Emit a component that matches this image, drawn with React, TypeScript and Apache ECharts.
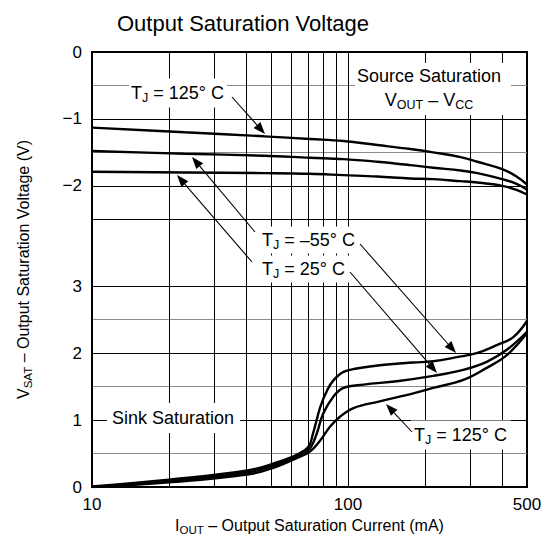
import React, { useEffect, useRef } from 'react';
import * as echarts from 'echarts';

const FONT = '"Liberation Sans", Arial, Helvetica, sans-serif';

// ---- axes ----
const xTickValues = [10, 20, 30, 40, 50, 60, 70, 80, 90, 100, 200, 300, 400, 500];
const xLabelValues = [10, 100, 500];
// Lower half of the y axis: sink voltage 0..3 V. Upper half: source voltage (VOUT - VCC), 0 at top.
const SOURCE_OFFSET = 6.5;
const yTickValues = [0, 0.5, 1, 1.5, 2, 2.5, 3, 4, 4.5, 5, 5.5, 6, 6.5];
const yLabelValues = [0, 1, 2, 3, 4.5, 5.5, 6.5];

// ---- source saturation (V, negative) ----
const sourceCurrent = [10, 23, 47, 71, 96, 130, 175, 215, 275, 320, 400, 455, 500];
const source125 = [-1.13, -1.2, -1.26, -1.3, -1.33, -1.39, -1.45, -1.5, -1.57, -1.64, -1.75, -1.86, -1.98];
const sourceM55 = [-1.48, -1.52, -1.55, -1.58, -1.6, -1.64, -1.69, -1.73, -1.77, -1.81, -1.9, -1.97, -2.06];
const source25 = [-1.79, -1.8, -1.81, -1.82, -1.84, -1.86, -1.89, -1.9, -1.93, -1.95, -2.0, -2.06, -2.13];

// ---- sink saturation (V) ----
const sinkCurrentM55 = [10, 20, 41, 53, 63, 70, 73, 78, 83, 88, 96, 108, 133, 180, 215, 266, 318, 381, 442, 500];
const sinkM55 = [0.01, 0.11, 0.25, 0.37, 0.48, 0.6, 0.8, 1.2, 1.45, 1.6, 1.72, 1.77, 1.82, 1.86, 1.88, 1.94, 2.0, 2.12, 2.24, 2.48];
const sinkCurrent25 = [10, 20, 41, 53, 63, 71, 75.5, 80, 87.6, 96, 115, 155, 215, 282, 348, 417, 500];
const sink25 = [0.0, 0.09, 0.22, 0.34, 0.45, 0.58, 0.8, 1.1, 1.35, 1.48, 1.53, 1.58, 1.66, 1.75, 1.87, 2.05, 2.32];
const sinkCurrent125 = [10, 20, 41, 53, 63, 71, 78, 85, 93, 105, 133, 180, 215, 282, 348, 417, 500];
const sink125 = [0.0, 0.07, 0.19, 0.31, 0.43, 0.53, 0.7, 0.9, 1.05, 1.18, 1.28, 1.4, 1.48, 1.6, 1.78, 1.97, 2.3];

const pairs = (xs: number[], ys: number[], offset = 0) => xs.map((x, i) => [x, ys[i] + offset]);

const richT = {
  n: { fontSize: 18, fontFamily: FONT, fill: '#000' },
  s: { fontSize: 12.5, fontFamily: FONT, fill: '#000', padding: [10, 0, 0, 0] },
};

function arrowEls(x1: number, y1: number, x2: number, y2: number) {
  const dx = x2 - x1, dy = y2 - y1;
  const len = Math.hypot(dx, dy);
  const ux = dx / len, uy = dy / len;
  const hl = 12, hw = 4.5;
  const bx = x2 - ux * hl, by = y2 - uy * hl;
  return [
    { type: 'line', z: 60, shape: { x1, y1, x2: bx, y2: by }, style: { stroke: '#000', lineWidth: 1.1 } },
    {
      type: 'polygon', z: 60,
      shape: { points: [[x2, y2], [bx - uy * hw, by + ux * hw], [bx + uy * hw, by - ux * hw]] },
      style: { fill: '#000' },
    },
  ];
}

function label(text: string, x: number, y: number, padding: number[]) {
  return {
    type: 'text', z: 50, x, y,
    style: { text, rich: richT, align: 'left', verticalAlign: 'middle', backgroundColor: '#fff', padding },
  };
}

export default function App() {
  const ref = useRef<HTMLDivElement>(null);
  useEffect(() => {
    if (!ref.current) return;
    const chart = echarts.init(ref.current, null, { renderer: 'svg' });
    const lineSeries = (name: string, data: number[][]) => ({
      name, type: 'line', data, smooth: 0.4, symbol: 'none', showSymbol: false,
      silent: true, z: 5, lineStyle: { color: '#000', width: 2.4 },
    });
    const gridColors = ['#000', '#8a8a8a', '#000', '#8a8a8a', '#000', '#8a8a8a', '#000', '#000', '#000', '#8a8a8a', '#000', '#8a8a8a', '#000'];
    const option: any = {
      animation: false,
      backgroundColor: '#fff',
      title: {
        text: 'Output Saturation Voltage', left: 112, top: 7,
        textStyle: { fontFamily: FONT, fontSize: 22, fontWeight: 'normal', color: '#000' },
      },
      grid: {
        left: 92, right: 21, top: 52, bottom: 53, show: true, borderColor: '#000', borderWidth: 2,
        containLabel: false, outerBoundsMode: 'none',
      },
      xAxis: {
        type: 'log', logBase: 10, min: 10, max: 500,
        axisLine: { show: false },
        axisTick: { show: false, customValues: xTickValues },
        axisLabel: { customValues: xLabelValues, fontFamily: FONT, fontSize: 17, color: '#000', margin: 9, formatter: (v: number) => String(v) },
        splitLine: { show: true, lineStyle: { color: '#000', width: 1 } },
        name: '{n|I}{s|OUT}{n| – Output Saturation Current (mA)}',
        nameLocation: 'middle', nameGap: 25,
        nameTextStyle: {
          rich: {
            n: { fontSize: 16, fontFamily: FONT, color: '#000' },
            s: { fontSize: 11.5, fontFamily: FONT, color: '#000', padding: [9, 0, 0, 0] },
          },
        },
      },
      yAxis: {
        type: 'value', min: 0, max: 6.5,
        axisLine: { show: false },
        axisTick: { show: false, customValues: yTickValues },
        axisLabel: {
          customValues: yLabelValues, fontFamily: FONT, fontSize: 17, color: '#000', margin: 10,
          formatter: (v: number) => {
            if (v > 3.5) {
              const s = Math.round((v - SOURCE_OFFSET) * 10) / 10;
              return s === 0 ? '0' : '\u2212' + Math.abs(s);
            }
            return String(v);
          },
        },
        splitLine: { show: true, lineStyle: { color: gridColors, width: 1 } },
        name: '{n|V}{s|SAT}{n| – Output Saturation Voltage (V)}',
        nameLocation: 'middle', nameGap: 58,
        nameTextStyle: {
          rich: {
            n: { fontSize: 16, fontFamily: FONT, color: '#000' },
            s: { fontSize: 11.5, fontFamily: FONT, color: '#000', padding: [9, 0, 0, 0] },
          },
        },
      },
      series: [
        lineSeries('Source 125', pairs(sourceCurrent, source125, SOURCE_OFFSET)),
        lineSeries('Source -55', pairs(sourceCurrent, sourceM55, SOURCE_OFFSET)),
        lineSeries('Source 25', pairs(sourceCurrent, source25, SOURCE_OFFSET)),
        lineSeries('Sink -55', pairs(sinkCurrentM55, sinkM55)),
        lineSeries('Sink 25', pairs(sinkCurrent25, sink25)),
        lineSeries('Sink 125', pairs(sinkCurrent125, sink125)),
      ],
      graphic: {
        elements: [
          { type: 'rect', z: 49, shape: { x: 355, y: 63, width: 156, height: 52 }, style: { fill: '#fff' } },
          {
            type: 'text', z: 50, x: 429, y: 76,
            style: { text: 'Source Saturation', font: `18px ${FONT}`, fill: '#000', align: 'center', verticalAlign: 'middle' },
          },
          {
            type: 'text', z: 50, x: 429, y: 100,
            style: { text: '{n|V}{s|OUT}{n| – V}{s|CC}', rich: richT, align: 'center', verticalAlign: 'middle' },
          },
          label('{n|T}{s|J}{n| = 125° C}', 129, 93, [3, 3, 3, 2]),
          label('{n|T}{s|J}{n| = –55° C}', 259, 240, [2, 4, 2, 3]),
          label('{n|T}{s|J}{n| = 25° C}', 259, 269, [2, 4, 2, 3]),
          label('{n|Sink Saturation}', 107, 418, [6, 6, 6, 5]),
          label('{n|T}{s|J}{n| = 125° C}', 411, 435, [3, 4, 3, 3]),
          ...arrowEls(232, 97, 265, 134),
          ...arrowEls(255, 232, 192, 157),
          ...arrowEls(252, 262, 177, 175),
          ...arrowEls(360, 244, 456, 353),
          ...arrowEls(350, 272, 437, 373),
          ...arrowEls(412, 432, 386, 404),
        ],
      },
    };
    chart.setOption(option);
    return () => chart.dispose();
  }, []);
  return <div ref={ref} style={{ position: 'fixed', left: 0, top: 0, width: 548, height: 540 }} />;
}
